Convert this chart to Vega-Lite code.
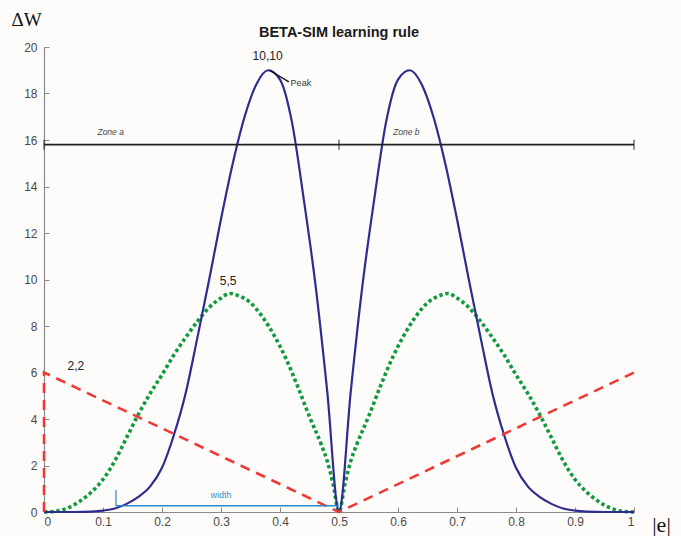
{
  "$schema": "https://vega.github.io/schema/vega-lite/v6.json",
  "width": 590,
  "height": 465,
  "autosize": {"type": "none"},
  "padding": {"left": 44, "top": 47, "right": 47, "bottom": 24},
  "background": "#fdfcfa",
  "title": {"text": "BETA-SIM learning rule", "font": "Liberation Sans", "fontSize": 14.5, "fontWeight": "bold", "color": "#1a1a1a", "anchor": "middle", "baseline": "alphabetic", "offset": 9, "dy": 50},
  "config": {"view": {"stroke": null}},
  "datasets": {
    "curves": [
      {"s": "blue", "i": 0, "x": 0, "y": 0},
      {"s": "blue", "i": 1, "x": 0.05, "y": 0},
      {"s": "blue", "i": 2, "x": 0.08, "y": 0.02},
      {"s": "blue", "i": 3, "x": 0.10, "y": 0.06},
      {"s": "blue", "i": 4, "x": 0.12, "y": 0.15},
      {"s": "blue", "i": 5, "x": 0.14, "y": 0.35},
      {"s": "blue", "i": 6, "x": 0.16, "y": 0.65},
      {"s": "blue", "i": 7, "x": 0.18, "y": 1.1},
      {"s": "blue", "i": 8, "x": 0.20, "y": 1.9},
      {"s": "blue", "i": 9, "x": 0.22, "y": 3.3},
      {"s": "blue", "i": 10, "x": 0.24, "y": 5.1},
      {"s": "blue", "i": 11, "x": 0.26, "y": 7.5},
      {"s": "blue", "i": 12, "x": 0.28, "y": 10.0},
      {"s": "blue", "i": 13, "x": 0.30, "y": 12.6},
      {"s": "blue", "i": 14, "x": 0.32, "y": 15.0},
      {"s": "blue", "i": 15, "x": 0.34, "y": 17.0},
      {"s": "blue", "i": 16, "x": 0.36, "y": 18.4},
      {"s": "blue", "i": 17, "x": 0.38, "y": 19.0},
      {"s": "blue", "i": 18, "x": 0.40, "y": 18.6},
      {"s": "blue", "i": 19, "x": 0.42, "y": 16.8},
      {"s": "blue", "i": 20, "x": 0.44, "y": 13.5},
      {"s": "blue", "i": 21, "x": 0.46, "y": 9.8},
      {"s": "blue", "i": 22, "x": 0.48, "y": 5.2},
      {"s": "blue", "i": 23, "x": 0.50, "y": 0},
      {"s": "blue", "i": 24, "x": 0.52, "y": 5.2},
      {"s": "blue", "i": 25, "x": 0.54, "y": 9.8},
      {"s": "blue", "i": 26, "x": 0.56, "y": 13.5},
      {"s": "blue", "i": 27, "x": 0.58, "y": 16.8},
      {"s": "blue", "i": 28, "x": 0.60, "y": 18.6},
      {"s": "blue", "i": 29, "x": 0.62, "y": 19.0},
      {"s": "blue", "i": 30, "x": 0.64, "y": 18.4},
      {"s": "blue", "i": 31, "x": 0.66, "y": 17.0},
      {"s": "blue", "i": 32, "x": 0.68, "y": 15.0},
      {"s": "blue", "i": 33, "x": 0.70, "y": 12.6},
      {"s": "blue", "i": 34, "x": 0.72, "y": 10.0},
      {"s": "blue", "i": 35, "x": 0.74, "y": 7.5},
      {"s": "blue", "i": 36, "x": 0.76, "y": 5.1},
      {"s": "blue", "i": 37, "x": 0.78, "y": 3.3},
      {"s": "blue", "i": 38, "x": 0.80, "y": 1.9},
      {"s": "blue", "i": 39, "x": 0.82, "y": 1.1},
      {"s": "blue", "i": 40, "x": 0.84, "y": 0.65},
      {"s": "blue", "i": 41, "x": 0.86, "y": 0.35},
      {"s": "blue", "i": 42, "x": 0.88, "y": 0.15},
      {"s": "blue", "i": 43, "x": 0.90, "y": 0.06},
      {"s": "blue", "i": 44, "x": 0.92, "y": 0.02},
      {"s": "blue", "i": 45, "x": 0.95, "y": 0},
      {"s": "blue", "i": 46, "x": 1.0, "y": 0},
      {"s": "green", "i": 0, "x": 0, "y": 0},
      {"s": "green", "i": 1, "x": 0.02, "y": 0.03},
      {"s": "green", "i": 2, "x": 0.04, "y": 0.17},
      {"s": "green", "i": 3, "x": 0.06, "y": 0.45},
      {"s": "green", "i": 4, "x": 0.08, "y": 0.85},
      {"s": "green", "i": 5, "x": 0.10, "y": 1.4},
      {"s": "green", "i": 6, "x": 0.12, "y": 2.2},
      {"s": "green", "i": 7, "x": 0.14, "y": 3.2},
      {"s": "green", "i": 8, "x": 0.16, "y": 4.2},
      {"s": "green", "i": 9, "x": 0.18, "y": 5.1},
      {"s": "green", "i": 10, "x": 0.20, "y": 5.9},
      {"s": "green", "i": 11, "x": 0.22, "y": 6.75},
      {"s": "green", "i": 12, "x": 0.24, "y": 7.5},
      {"s": "green", "i": 13, "x": 0.26, "y": 8.2},
      {"s": "green", "i": 14, "x": 0.28, "y": 8.8},
      {"s": "green", "i": 15, "x": 0.30, "y": 9.2},
      {"s": "green", "i": 16, "x": 0.315, "y": 9.4},
      {"s": "green", "i": 17, "x": 0.33, "y": 9.3},
      {"s": "green", "i": 18, "x": 0.35, "y": 9.0},
      {"s": "green", "i": 19, "x": 0.37, "y": 8.4},
      {"s": "green", "i": 20, "x": 0.39, "y": 7.6},
      {"s": "green", "i": 21, "x": 0.41, "y": 6.6},
      {"s": "green", "i": 22, "x": 0.43, "y": 5.4},
      {"s": "green", "i": 23, "x": 0.45, "y": 4.1},
      {"s": "green", "i": 24, "x": 0.47, "y": 2.9},
      {"s": "green", "i": 25, "x": 0.48, "y": 2.2},
      {"s": "green", "i": 26, "x": 0.49, "y": 1.2},
      {"s": "green", "i": 27, "x": 0.50, "y": 0},
      {"s": "green", "i": 28, "x": 0.51, "y": 1.2},
      {"s": "green", "i": 29, "x": 0.52, "y": 2.2},
      {"s": "green", "i": 30, "x": 0.53, "y": 2.9},
      {"s": "green", "i": 31, "x": 0.55, "y": 4.1},
      {"s": "green", "i": 32, "x": 0.57, "y": 5.4},
      {"s": "green", "i": 33, "x": 0.59, "y": 6.6},
      {"s": "green", "i": 34, "x": 0.61, "y": 7.6},
      {"s": "green", "i": 35, "x": 0.63, "y": 8.4},
      {"s": "green", "i": 36, "x": 0.65, "y": 9.0},
      {"s": "green", "i": 37, "x": 0.67, "y": 9.3},
      {"s": "green", "i": 38, "x": 0.685, "y": 9.4},
      {"s": "green", "i": 39, "x": 0.70, "y": 9.2},
      {"s": "green", "i": 40, "x": 0.72, "y": 8.8},
      {"s": "green", "i": 41, "x": 0.74, "y": 8.2},
      {"s": "green", "i": 42, "x": 0.76, "y": 7.5},
      {"s": "green", "i": 43, "x": 0.78, "y": 6.75},
      {"s": "green", "i": 44, "x": 0.80, "y": 5.9},
      {"s": "green", "i": 45, "x": 0.82, "y": 5.1},
      {"s": "green", "i": 46, "x": 0.84, "y": 4.2},
      {"s": "green", "i": 47, "x": 0.86, "y": 3.2},
      {"s": "green", "i": 48, "x": 0.88, "y": 2.2},
      {"s": "green", "i": 49, "x": 0.90, "y": 1.4},
      {"s": "green", "i": 50, "x": 0.92, "y": 0.85},
      {"s": "green", "i": 51, "x": 0.94, "y": 0.45},
      {"s": "green", "i": 52, "x": 0.96, "y": 0.17},
      {"s": "green", "i": 53, "x": 0.98, "y": 0.03},
      {"s": "green", "i": 54, "x": 1.0, "y": 0},
      {"s": "red", "i": 0, "x": 0, "y": 0},
      {"s": "red", "i": 1, "x": 0, "y": 6},
      {"s": "red", "i": 2, "x": 0.5, "y": 0},
      {"s": "red", "i": 3, "x": 1.0, "y": 6}
    ],
    "zone": [
      {"x": 0, "y": 15.8},
      {"x": 0.5, "y": 15.8},
      {"x": 1.0, "y": 15.8}
    ],
    "zoneText": [
      {"t": "Zone a", "x": 0.113, "y": 16.35},
      {"t": "Zone b", "x": 0.614, "y": 16.35}
    ],
    "widthBar": [
      {"x": 0.122, "x2": 0.5, "y": 0.27, "y2": 0.95}
    ],
    "widthText": [
      {"t": "width", "x": 0.30, "y": 0.75}
    ],
    "labels": [
      {"t": "10,10", "x": 0.379, "y": 19.6},
      {"t": "5,5", "x": 0.312, "y": 9.95},
      {"t": "2,2", "x": 0.054, "y": 6.3}
    ],
    "peakArrow": [
      {"x": 0.382, "y": 19.0, "x2": 0.415, "y2": 18.5}
    ],
    "peakText": [
      {"t": "Peak", "x": 0.418, "y": 18.45}
    ]
  },
  "layer": [
    {
      "data": {"name": "curves"},
      "transform": [{"filter": "datum.s === 'green'"}],
      "mark": {"type": "line", "color": "#0f9a3c", "strokeWidth": 3.6, "strokeDash": [3.4, 2.8], "interpolate": "monotone"},
      "encoding": {
        "x": {"field": "x", "type": "quantitative", "scale": {"domain": [0, 1], "nice": false},
          "axis": {"values": [0, 0.1, 0.2, 0.3, 0.4, 0.5, 0.6, 0.7, 0.8, 0.9, 1], "format": "~g", "grid": false,
            "domainColor": "#8a8a8a", "domainWidth": 1.2, "tickColor": "#8a8a8a", "tickSize": -5, "tickWidth": 1,
            "labelFont": "Liberation Sans", "labelFontSize": 12, "labelColor": "#4a4a4a", "labelPadding": 9,
            "title": "|e|", "titleFont": "Liberation Serif", "titleFontSize": 22, "titleFontWeight": "normal", "titleColor": "#111",
            "titleX": 617, "titleY": 12, "titleAlign": "center", "titleBaseline": "middle"}},
        "y": {"field": "y", "type": "quantitative", "scale": {"domain": [0, 20], "nice": false},
          "axis": {"values": [0, 2, 4, 6, 8, 10, 12, 14, 16, 18, 20], "grid": false,
            "domainColor": "#8a8a8a", "domainWidth": 1.2, "tickColor": "#8a8a8a", "tickSize": -5, "tickWidth": 1,
            "labelFont": "Liberation Sans", "labelFontSize": 12, "labelColor": "#4a4a4a", "labelPadding": 12,
            "title": "ΔW", "titleFont": "Liberation Serif", "titleFontSize": 19, "titleFontWeight": "normal", "titleColor": "#111",
            "titleAngle": 0, "titleX": -18, "titleY": -28, "titleAlign": "center", "titleBaseline": "middle"}},
        "order": {"field": "i", "type": "quantitative"}
      }
    },
    {
      "data": {"name": "curves"},
      "transform": [{"filter": "datum.s === 'blue'"}],
      "mark": {"type": "line", "color": "#2e2d8f", "strokeWidth": 2.2, "interpolate": "monotone"},
      "encoding": {
        "x": {"field": "x", "type": "quantitative"},
        "y": {"field": "y", "type": "quantitative"},
        "order": {"field": "i", "type": "quantitative"}
      }
    },
    {
      "data": {"name": "curves"},
      "transform": [{"filter": "datum.s === 'red'"}],
      "mark": {"type": "line", "color": "#ec3b37", "strokeWidth": 2.6, "strokeDash": [10, 7]},
      "encoding": {
        "x": {"field": "x", "type": "quantitative"},
        "y": {"field": "y", "type": "quantitative"},
        "order": {"field": "i", "type": "quantitative"}
      }
    },
    {
      "data": {"name": "zone"},
      "mark": {"type": "line", "color": "#222", "strokeWidth": 1.6},
      "encoding": {
        "x": {"field": "x", "type": "quantitative"},
        "y": {"field": "y", "type": "quantitative"}
      }
    },
    {
      "data": {"name": "zone"},
      "mark": {"type": "tick", "orient": "vertical", "color": "#222", "size": 10, "thickness": 1.4},
      "encoding": {
        "x": {"field": "x", "type": "quantitative"},
        "y": {"field": "y", "type": "quantitative"}
      }
    },
    {
      "data": {"name": "zoneText"},
      "mark": {"type": "text", "font": "Liberation Sans", "fontSize": 8.5, "fontStyle": "italic", "color": "#444"},
      "encoding": {
        "x": {"field": "x", "type": "quantitative"},
        "y": {"field": "y", "type": "quantitative"},
        "text": {"field": "t"}
      }
    },
    {
      "data": {"name": "widthBar"},
      "mark": {"type": "rule", "color": "#2f86c6", "strokeWidth": 1.6},
      "encoding": {
        "x": {"field": "x", "type": "quantitative"},
        "x2": {"field": "x2"},
        "y": {"field": "y", "type": "quantitative"}
      }
    },
    {
      "data": {"name": "widthBar"},
      "mark": {"type": "rule", "color": "#2f86c6", "strokeWidth": 1.2},
      "encoding": {
        "x": {"field": "x", "type": "quantitative"},
        "y": {"field": "y", "type": "quantitative"},
        "y2": {"field": "y2"}
      }
    },
    {
      "data": {"name": "widthText"},
      "mark": {"type": "text", "font": "Liberation Sans", "fontSize": 9, "color": "#3a8fd0"},
      "encoding": {
        "x": {"field": "x", "type": "quantitative"},
        "y": {"field": "y", "type": "quantitative"},
        "text": {"field": "t"}
      }
    },
    {
      "data": {"name": "labels"},
      "mark": {"type": "text", "font": "Liberation Sans", "fontSize": 12, "color": "#222"},
      "encoding": {
        "x": {"field": "x", "type": "quantitative"},
        "y": {"field": "y", "type": "quantitative"},
        "text": {"field": "t"}
      }
    },
    {
      "data": {"name": "peakArrow"},
      "mark": {"type": "rule", "color": "#111", "strokeWidth": 1.3},
      "encoding": {
        "x": {"field": "x", "type": "quantitative"},
        "y": {"field": "y", "type": "quantitative"},
        "x2": {"field": "x2"},
        "y2": {"field": "y2"}
      }
    },
    {
      "data": {"name": "peakText"},
      "mark": {"type": "text", "font": "Liberation Sans", "fontSize": 9, "align": "left", "color": "#333"},
      "encoding": {
        "x": {"field": "x", "type": "quantitative"},
        "y": {"field": "y", "type": "quantitative"},
        "text": {"field": "t"}
      }
    }
  ]
}
